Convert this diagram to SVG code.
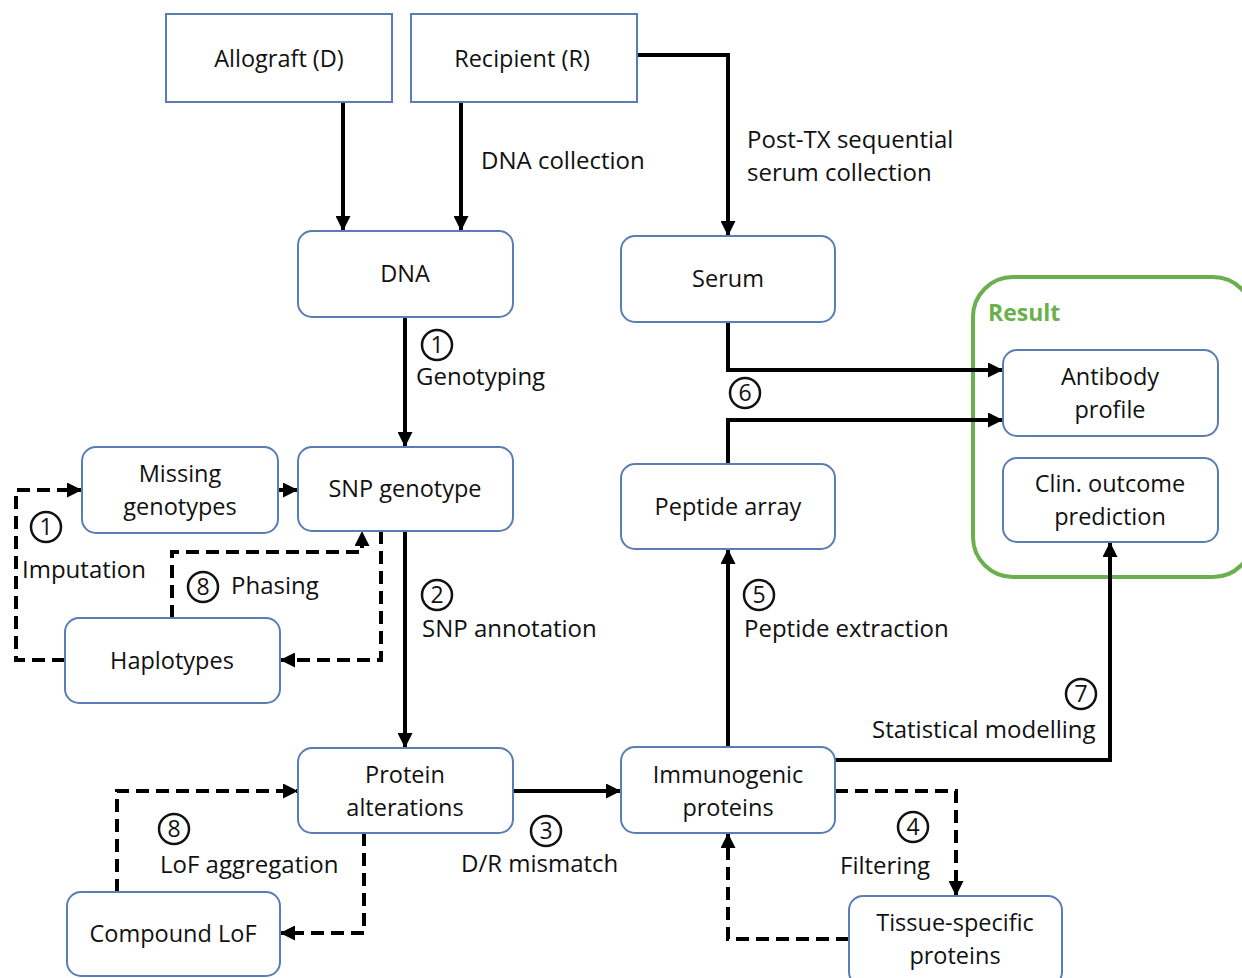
<svg xmlns="http://www.w3.org/2000/svg" width="1242" height="978" viewBox="0 0 1242 978">
<style>
.n{fill:#fff;stroke:#5a7db5;stroke-width:2}
.t{font-family:"Open Sans","Liberation Sans",sans-serif;font-size:23.5px;fill:#111;text-anchor:middle;dominant-baseline:central}
.l{font-family:"Open Sans","Liberation Sans",sans-serif;font-size:24px;fill:#111}
.c{font-family:"Open Sans","Liberation Sans",sans-serif;font-size:23px;fill:#111;text-anchor:middle;dominant-baseline:central}
.o{fill:none;stroke:#111;stroke-width:2.5}
.s{fill:none;stroke:#000;stroke-width:4}
.d{fill:none;stroke:#000;stroke-width:4;stroke-dasharray:13 7}
</style>
<defs>
<marker id="a" viewBox="0 0 10 10" refX="10" refY="5" markerWidth="15" markerHeight="15" markerUnits="userSpaceOnUse" orient="auto"><path d="M0,0 L10,5 L0,10 z" fill="#000"/></marker>
</defs>
<rect x="973" y="277" width="280" height="300" rx="40" fill="none" stroke="#6ab04c" stroke-width="4"/>
<text x="988" y="321" font-family="Open Sans,Liberation Sans,sans-serif" font-size="23" font-weight="bold" fill="#6ab04c">Result</text>
<g id="connectors">
<path class="s" d="M343,102 V231" marker-end="url(#a)"/>
<path class="s" d="M461,102 V231" marker-end="url(#a)"/>
<path class="s" d="M637,55 H728 V236" marker-end="url(#a)"/>
<path class="s" d="M405,317 V447" marker-end="url(#a)"/>
<path class="s" d="M728,322 V370 H1003" marker-end="url(#a)"/>
<path class="s" d="M728,464 V420 H1003" marker-end="url(#a)"/>
<path class="s" d="M278,490 H298" marker-end="url(#a)"/>
<path class="d" d="M65,660 H16 V490 H82" marker-end="url(#a)"/>
<path class="d" d="M172,618 V552 H362 V531" marker-end="url(#a)"/>
<path class="d" d="M381,531 V660 H280" marker-end="url(#a)"/>
<path class="s" d="M405,531 V748" marker-end="url(#a)"/>
<path class="d" d="M117,892 V791 H298" marker-end="url(#a)"/>
<path class="d" d="M364,833 V933 H280" marker-end="url(#a)"/>
<path class="s" d="M513,791 H621" marker-end="url(#a)"/>
<path class="s" d="M728,747 V549" marker-end="url(#a)"/>
<path class="s" d="M835,760 H1110 V542" marker-end="url(#a)"/>
<path class="d" d="M835,791 H956 V896" marker-end="url(#a)"/>
<path class="d" d="M849,939 H728 V833" marker-end="url(#a)"/>
</g>
<g id="allograft"><rect class="n" x="166" y="14" width="226" height="88"/><text class="t" x="279" y="58">Allograft (D)</text></g>
<g id="recipient"><rect class="n" x="411" y="14" width="226" height="88"/><text class="t" x="522" y="58">Recipient (R)</text></g>
<g id="dna"><rect class="n" x="298" y="231" width="215" height="86" rx="14"/><text class="t" x="405" y="273">DNA</text></g>
<g id="serum"><rect class="n" x="621" y="236" width="214" height="86" rx="14"/><text class="t" x="728" y="278">Serum</text></g>
<g id="snp"><rect class="n" x="298" y="447" width="215" height="84" rx="14"/><text class="t" x="405" y="488">SNP genotype</text></g>
<g id="missing"><rect class="n" x="82" y="447" width="196" height="86" rx="14"/><text class="t" x="180" y="473">Missing</text><text class="t" x="180" y="506">genotypes</text></g>
<g id="haplotypes"><rect class="n" x="65" y="618" width="215" height="85" rx="14"/><text class="t" x="172" y="660">Haplotypes</text></g>
<g id="peptide"><rect class="n" x="621" y="464" width="214" height="85" rx="14"/><text class="t" x="728" y="506">Peptide array</text></g>
<g id="antibody"><rect class="n" x="1003" y="350" width="215" height="86" rx="14"/><text class="t" x="1110" y="376">Antibody</text><text class="t" x="1110" y="409">profile</text></g>
<g id="clin"><rect class="n" x="1003" y="458" width="215" height="84" rx="14"/><text class="t" x="1110" y="483">Clin. outcome</text><text class="t" x="1110" y="516">prediction</text></g>
<g id="protein"><rect class="n" x="298" y="748" width="215" height="85" rx="14"/><text class="t" x="405" y="774">Protein</text><text class="t" x="405" y="807">alterations</text></g>
<g id="compound"><rect class="n" x="67" y="892" width="213" height="84" rx="14"/><text class="t" x="173" y="933">Compound LoF</text></g>
<g id="immunogenic"><rect class="n" x="621" y="747" width="214" height="86" rx="14"/><text class="t" x="728" y="774">Immunogenic</text><text class="t" x="728" y="807">proteins</text></g>
<g id="tissue"><rect class="n" x="849" y="896" width="213" height="90" rx="14"/><text class="t" x="955" y="922">Tissue-specific</text><text class="t" x="955" y="955">proteins</text></g>
<g id="labels">
<text class="l" x="481" y="169">DNA collection</text>
<text class="l" x="747" y="148">Post-TX sequential</text>
<text class="l" x="747" y="181">serum collection</text>
<circle class="o" cx="437" cy="345" r="15"/><text class="c" x="437" y="344">1</text>
<text class="l" x="416" y="385">Genotyping</text>
<circle class="o" cx="437" cy="595" r="15"/><text class="c" x="437" y="594">2</text>
<text class="l" x="422" y="637">SNP annotation</text>
<circle class="o" cx="546" cy="831" r="15"/><text class="c" x="546" y="830">3</text>
<text class="l" x="461" y="872">D/R mismatch</text>
<circle class="o" cx="913" cy="827" r="15"/><text class="c" x="913" y="826">4</text>
<text class="l" x="840" y="874">Filtering</text>
<circle class="o" cx="759" cy="595" r="15"/><text class="c" x="759" y="594">5</text>
<text class="l" x="744" y="637">Peptide extraction</text>
<circle class="o" cx="745" cy="393" r="15"/><text class="c" x="745" y="392">6</text>
<circle class="o" cx="1081" cy="694" r="15"/><text class="c" x="1081" y="693">7</text>
<text class="l" x="872" y="738">Statistical modelling</text>
<circle class="o" cx="174" cy="829" r="15"/><text class="c" x="174" y="828">8</text>
<text class="l" x="160" y="873">LoF aggregation</text>
<circle class="o" cx="46" cy="527" r="15"/><text class="c" x="46" y="526">1</text>
<text class="l" x="22" y="578">Imputation</text>
<circle class="o" cx="203" cy="587" r="15"/><text class="c" x="203" y="586">8</text>
<text class="l" x="231" y="594">Phasing</text>
</g>
</svg>
